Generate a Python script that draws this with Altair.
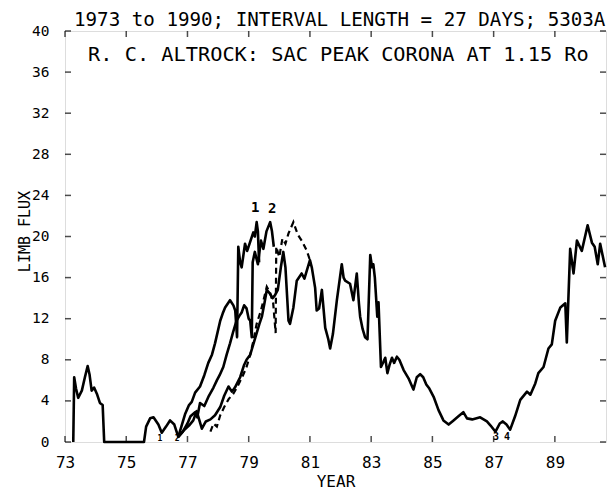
import altair as alt
import pandas as pd

MONO = "DejaVu Sans Mono"

# ---- data ----
main_year = [73.27, 73.30, 73.36, 73.43, 73.55, 73.65, 73.74, 73.80, 73.87, 73.95, 74.04, 74.14, 74.23, 74.28,
             75.58, 75.65, 75.78, 75.89, 76.05, 76.16, 76.30, 76.43, 76.57, 76.70,
             76.90, 77.05, 77.19, 77.30, 77.38, 77.47, 77.60, 77.75, 77.90, 78.07, 78.20, 78.34, 78.45, 78.55,
             78.72, 78.85, 78.93, 79.05, 79.15, 79.26, 79.35, 79.43, 79.52, 79.59, 79.68, 79.78, 79.86, 79.95,
             80.05, 80.13, 80.20, 80.30, 80.35, 80.46, 80.57, 80.73, 80.82, 80.90, 81.00,
             81.06, 81.17, 81.22, 81.30, 81.39, 81.50, 81.60, 81.66, 81.75, 81.88, 82.04, 82.10, 82.15, 82.31,
             82.42, 82.53, 82.60, 82.64, 82.72, 82.80, 82.88, 82.97, 83.03, 83.07, 83.12, 83.20, 83.24, 83.32,
             83.40, 83.46, 83.53, 83.60, 83.68, 83.75, 83.84, 83.92, 84.06, 84.22, 84.38, 84.49, 84.60, 84.70,
             84.80, 84.90, 85.04, 85.20, 85.36, 85.53, 85.69, 85.85, 86.01, 86.13, 86.30, 86.56, 86.78, 86.90,
             87.06, 87.20, 87.30, 87.42, 87.54, 87.70, 87.87, 88.09, 88.20, 88.36, 88.46, 88.63, 88.79, 88.90,
             89.01, 89.18, 89.34, 89.39, 89.50, 89.61, 89.72, 89.88, 90.07, 90.21, 90.30, 90.40, 90.48, 90.64]
main_flux = [0.0, 6.3, 5.2, 4.3, 5.0, 6.3, 7.4, 6.6, 5.0, 5.3, 4.7, 3.8, 3.6, 0.0,
             0.0, 1.5, 2.3, 2.4, 1.7, 0.9, 1.5, 2.1, 1.7, 0.5,
             1.2, 1.6, 2.1, 3.0, 2.2, 1.3, 2.0, 2.2, 2.6, 3.4, 4.5, 5.4, 4.9, 5.3,
             6.3, 7.5, 8.0, 8.5, 9.5, 10.6, 11.5, 12.2, 13.6, 14.8, 14.5, 14.0, 14.3, 14.8,
             17.0, 18.5, 17.0, 11.8, 11.5, 13.1, 15.7, 16.4, 15.9, 16.7, 17.7,
             17.0, 15.0, 12.8, 13.0, 14.8, 11.1, 10.0, 9.1, 10.5, 13.8, 17.3, 16.0, 15.7, 15.4,
             13.8, 16.4, 13.5, 12.2, 11.0, 10.2, 10.0, 18.2, 17.0, 17.3, 16.0, 12.2, 13.6, 7.3,
             7.8, 8.2, 6.7, 7.5, 8.2, 7.7, 8.3, 8.0, 7.0, 6.2, 5.1, 6.3, 6.6, 6.3,
             5.6, 5.2, 4.4, 3.1, 2.1, 1.7, 2.1, 2.5, 2.9, 2.3, 2.2, 2.4, 2.0, 1.6,
             1.0, 1.8, 2.0, 1.7, 1.2, 2.5, 4.1, 4.9, 4.6, 5.7, 6.7, 7.3, 9.1, 9.5,
             11.8, 13.1, 13.5, 9.7, 18.8, 16.4, 19.6, 18.6, 21.1, 19.4, 19.0, 17.3, 19.3, 17.0]

a_year = [76.70, 76.80, 76.92, 77.05, 77.14, 77.25, 77.41, 77.55, 77.68, 77.80, 77.90, 78.07, 78.15, 78.23,
          78.39, 78.50, 78.56, 78.62, 78.66, 78.72, 78.77, 78.88, 78.95, 79.05, 79.15, 79.20, 79.26, 79.30, 79.34]
a_flux = [0.5, 1.5, 2.7, 3.6, 3.9, 4.8, 5.4, 6.5, 7.7, 8.5, 9.6, 11.8, 12.5, 13.1,
          13.8, 13.3, 12.8, 10.2, 19.0, 17.5, 17.0, 19.3, 18.6, 19.5, 20.4, 20.0, 21.4, 20.5, 17.5]

b_year = [76.70, 76.85, 77.00, 77.10, 77.25, 77.32, 77.41, 77.55, 77.70, 77.85, 77.96, 78.05, 78.17, 78.28,
          78.39, 78.50, 78.60, 78.70, 78.77, 78.85, 78.93, 79.00, 79.05, 79.10, 79.13, 79.20, 79.30, 79.40,
          79.48, 79.58, 79.70, 79.76, 79.82]
b_flux = [0.5, 1.0, 1.8, 2.5, 2.9, 2.4, 3.8, 3.5, 4.5, 5.3, 6.0, 6.5, 7.3, 8.5,
          9.6, 10.8, 11.8, 12.3, 12.6, 13.3, 13.0, 12.0, 11.8, 10.2, 17.5, 18.5, 17.3, 19.6,
          18.8, 20.5, 21.4, 20.5, 19.0]

d_year = [77.75, 77.85, 77.96, 78.07, 78.20, 78.35, 78.50, 78.65, 78.80, 78.93, 79.05, 79.15, 79.26, 79.40,
          79.50, 79.59, 79.70, 79.80, 79.88, 79.90, 80.00, 80.10, 80.20, 80.30, 80.46, 80.60, 80.75, 80.90, 81.00]
d_flux = [1.0, 1.8, 1.5, 2.6, 3.4, 4.2, 4.7, 5.5, 6.4, 7.3, 8.5, 9.8, 11.5, 12.8,
          14.0, 15.1, 14.5, 13.5, 10.6, 19.0, 18.0, 19.8, 19.3, 20.3, 21.4, 20.2, 19.5, 18.6, 17.7]

x_ticks = [73, 75, 77, 79, 81, 83, 85, 87, 89]
y_ticks = [0, 4, 8, 12, 16, 20, 24, 28, 32, 36, 40]

note_text = ["1", "2", "3", "4", "1", "2"]
note_year = [79.21, 79.77, 87.08, 87.44, 76.10, 76.66]
note_flux = [22.8, 22.7, 0.5, 0.5, 0.3, 0.3]
note_size = [14, 14, 10, 10, 8, 8]

title_text = "1973 to 1990; INTERVAL LENGTH = 27 DAYS; 5303A"
inner_text = "R. C. ALTROCK:  SAC PEAK CORONA AT 1.15 Ro"


def frame(name, xs, ys):
    return pd.DataFrame({"year": xs, "flux": ys, "series": name, "idx": list(range(len(xs)))})


solid_df = pd.concat([frame("main", main_year, main_flux),
                      frame("A", a_year, a_flux),
                      frame("B", b_year, b_flux)], ignore_index=True)
dash_df = frame("D", d_year, d_flux)
notes_df = pd.DataFrame({"year": note_year, "flux": note_flux, "label": note_text, "fs": note_size})
inner_df = pd.DataFrame({"year": [81.93], "flux": [37.65], "label": [inner_text]})
title_df = pd.DataFrame({"label": [title_text]})

W, H = 541, 411

x_scale = alt.Scale(domain=[73, 90.67], nice=False, zero=False)
y_scale = alt.Scale(domain=[0, 40], nice=False)

x_enc = alt.X("year:Q", scale=x_scale,
              axis=alt.Axis(values=x_ticks, format="d", title="YEAR", grid=False, ticks=False, domain=False,
                            labelFont=MONO, labelFontSize=16, labelPadding=12, labelColor="black",
                            labelFlush=False,
                            titleFont=MONO, titleFontSize=16, titleFontWeight="normal", titleColor="black",
                            titleBaseline="alphabetic", titleY=44, titleX=W / 2, titleAlign="center"))
y_enc = alt.Y("flux:Q", scale=y_scale,
              axis=alt.Axis(values=y_ticks, format="d", title="LIMB FLUX", grid=False, ticks=False, domain=False,
                            labelFont=MONO, labelFontSize=14.5, labelPadding=16, labelColor="black",
                            labelFlush=False,
                            titleFont=MONO, titleFontSize=15, titleFontWeight="normal", titleColor="black",
                            titleAngle=270, titleAlign="center", titleBaseline="middle",
                            titleX=-41, titleY=200))

solid = alt.Chart(solid_df).mark_line(color="black", strokeWidth=2.6, strokeJoin="round").encode(
    x=x_enc, y=y_enc, detail="series:N", order="idx:Q")
dashed = alt.Chart(dash_df).mark_line(color="black", strokeWidth=2.2, strokeDash=[6, 4]).encode(
    x=x_enc, y=y_enc, order="idx:Q")

xt_df = pd.DataFrame({"year": x_ticks})
yt_df = pd.DataFrame({"flux": y_ticks})
tick_bottom = alt.Chart(xt_df).mark_tick(color="black", orient="vertical", size=6, thickness=1.5).encode(
    x=x_enc, y=alt.value(H - 3))
tick_top = alt.Chart(xt_df).mark_tick(color="black", orient="vertical", size=6, thickness=1.5).encode(
    x=x_enc, y=alt.value(3))
tick_left = alt.Chart(yt_df).mark_tick(color="black", orient="horizontal", size=6, thickness=1.5).encode(
    y=y_enc, x=alt.value(3))
tick_right = alt.Chart(yt_df).mark_tick(color="black", orient="horizontal", size=6, thickness=1.5).encode(
    y=y_enc, x=alt.value(W - 3))

notes = alt.Chart(notes_df).mark_text(font=MONO, fontWeight="bold", color="black", baseline="middle").encode(
    x=x_enc, y=y_enc, text="label:N", size=alt.Size("fs:Q", scale=None, legend=None))
inner = alt.Chart(inner_df).mark_text(font=MONO, fontSize=20.3, color="black", baseline="middle",
                                      align="center").encode(
    x=x_enc, y=y_enc, text="label:N")
top_title = alt.Chart(title_df).mark_text(font=MONO, fontSize=19.2, color="black", baseline="alphabetic",
                                          align="left").encode(
    x=alt.value(9), y=alt.value(-5), text="label:N")

chart = alt.layer(solid, dashed, tick_bottom, tick_top, tick_left, tick_right, notes, inner, top_title).properties(
    width=W, height=H,
    padding={"left": 57, "top": 23, "right": 1, "bottom": 47},
    autosize=alt.AutoSizeParams(type="none"),
).configure_view(stroke="black", strokeWidth=2).configure(background="white")

chart.save("out.html", embed_options={"renderer": "svg", "actions": False})
